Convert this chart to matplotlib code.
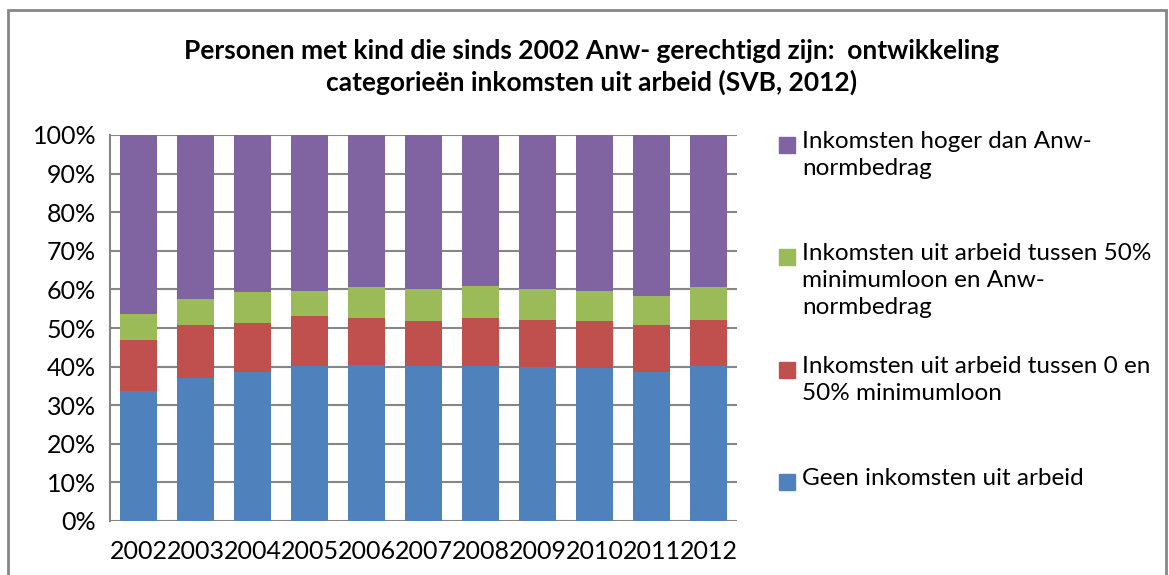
import matplotlib.pyplot as plt
from matplotlib.patches import Rectangle
import numpy as np

plt.rcParams['font.family'] = ['Lato', 'DejaVu Sans']

years = ["2002", "2003", "2004", "2005", "2006", "2007", "2008", "2009", "2010", "2011", "2012"]
geen = [33.8, 37.1, 38.7, 40.2, 40.5, 40.2, 40.2, 39.8, 39.6, 38.7, 40.2]
tot50 = [13.2, 13.8, 12.5, 13.0, 12.0, 11.5, 12.3, 12.4, 12.1, 12.2, 12.0]
tot_anw = [6.5, 6.5, 8.0, 6.5, 8.0, 8.3, 8.3, 7.8, 7.8, 7.5, 8.3]
hoger = [100 - a - b - c for a, b, c in zip(geen, tot50, tot_anw)]

series = [
    ("Geen inkomsten uit arbeid", geen, "#4F81BD"),
    ("Inkomsten uit arbeid tussen 0 en\n50% minimumloon", tot50, "#C0504D"),
    ("Inkomsten uit arbeid tussen 50%\nminimumloon en Anw-\nnormbedrag", tot_anw, "#9BBB59"),
    ("Inkomsten hoger dan Anw-\nnormbedrag", hoger, "#8064A2"),
]

W, H = 1169, 575
fig = plt.figure(figsize=(W / 100, H / 100), dpi=100)
ax = fig.add_axes([110 / W, 1 - 521 / H, (737 - 110) / W, (521 - 135) / H])

x = np.arange(len(years))
bottom = np.zeros(len(years))
for label, vals, col in series:
    ax.bar(x, vals, 0.65, bottom=bottom, color=col, zorder=3)
    bottom += np.array(vals)

ax.set_xlim(-0.5, len(years) - 0.5)
ax.set_ylim(0, 100)
ax.set_yticks(np.arange(0, 101, 10))
ax.set_yticklabels([f"{v}%" for v in range(0, 101, 10)])
ax.set_xticks(x)
ax.set_xticklabels(years)
ax.tick_params(axis="both", length=0, labelsize=18, colors="#000000", pad=10)
ax.tick_params(axis="x", pad=14)
ax.grid(axis="y", color="#868686", linewidth=1.5, zorder=0)
for s in ["top", "right", "bottom"]:
    ax.spines[s].set_visible(False)
ax.spines["left"].set_color("#868686")
ax.spines["left"].set_linewidth(1.5)

fig.text(592 / W, 1 - 67 / H,
         "Personen met kind die sinds 2002 Anw- gerechtigd zijn:  ontwikkeling\n"
         "categorieën inkomsten uit arbeid (SVB, 2012)",
         ha="center", va="center", fontsize=19, fontweight="bold", linespacing=1.3)

# legend, Excel style: square next to first line
leg_y = [145, 257, 370, 482]
for (label, vals, col), yy in zip(reversed(series), leg_y):
    fig.patches.append(Rectangle((779 / W, 1 - (yy + 8) / H), 16 / W, 16 / H,
                                 transform=fig.transFigure, color=col))
    fig.text(802 / W, 1 - (yy - 14) / H, label, ha="left", va="top",
             fontsize=17.5, linespacing=1.35)

fig.patches.append(Rectangle((8 / W, -0.1), (1166 - 8) / W, 1.1 - 10 / H,
                             transform=fig.transFigure, fill=False,
                             edgecolor="#868686", linewidth=2))

fig.savefig("out.png", dpi=100)
